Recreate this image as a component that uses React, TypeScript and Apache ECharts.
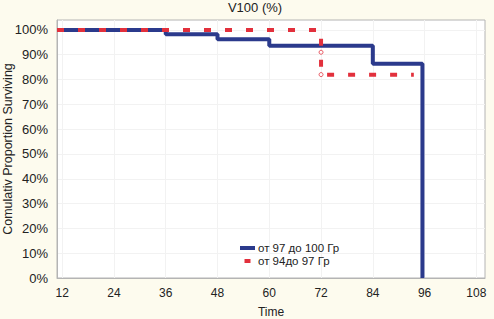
import React, { useEffect, useRef } from "react";
import * as echarts from "echarts";

const xTicks = [12, 24, 36, 48, 60, 72, 84, 96, 108];
const yTicks = [0, 10, 20, 30, 40, 50, 60, 70, 80, 90, 100];

const blueName = "от 97 до 100 Гр";
const redName = "от 94до 97 Гр";

// step points (time, % surviving)
const blueTimes = [10.8, 36, 48, 60, 84, 95.5];
const blueValues = [100, 98.3, 96.2, 93.6, 86.4, 0];

const redTimes = [10.8, 72, 93.5];
const redValues = [100, 81.9, 81.9];

const redCensorTimes = [72, 72];
const redCensorValues = [91, 82];

export default function App() {
  const ref = useRef<HTMLDivElement>(null);
  useEffect(() => {
    if (!ref.current) return;
    const chart = echarts.init(ref.current, null, { renderer: "svg" });
    const font = "Liberation Sans, Arial, sans-serif";
    chart.setOption({
      animation: false,
      backgroundColor: "#fdfbee",
      textStyle: { fontFamily: font },
      title: {
        text: "V100 (%)",
        left: 250,
        top: -4,
        textAlign: "center",
        textStyle: { fontSize: 13, fontWeight: "normal", color: "#222", fontFamily: font },
      },
      legend: {
        orient: "vertical",
        left: 235,
        top: 237,
        itemWidth: 15,
        itemHeight: 4,
        itemGap: 1,
        textStyle: { fontSize: 11.5, color: "#222", fontFamily: font, padding: [0, 0, 0, -2] },
        data: [
          { name: blueName, icon: "rect" },
          { name: redName, icon: "path://M0,0h6v4h-6z" },
        ],
      },
      grid: {
        left: 57,
        right: 9,
        top: 20,
        bottom: 41,
        show: true,
        backgroundColor: "#ffffff",
        borderColor: "#b4b4b4",
        borderWidth: 1,
        containLabel: false,
        outerBoundsMode: "none",
      },
      xAxis: {
        type: "value",
        min: 10.8,
        max: 110,
        name: "Time",
        nameLocation: "middle",
        nameGap: 28,
        nameMoveOverlap: false,
        nameTextStyle: { fontSize: 12, color: "#222", fontFamily: font },
        axisLine: { show: true, lineStyle: { color: "#b4b4b4" } },
        axisTick: { show: false, customValues: xTicks },
        axisLabel: {
          customValues: xTicks,
          fontSize: 12,
          color: "#222",
          margin: 9,
          fontFamily: font,
        },
        splitLine: { show: true, lineStyle: { color: "#f2f2f2" } },
      },
      yAxis: {
        type: "value",
        min: 0,
        max: 104,
        name: "Comulativ Proportion Surviving",
        nameLocation: "middle",
        nameGap: 43,
        nameMoveOverlap: false,
        nameTextStyle: { fontSize: 12.5, color: "#222", fontFamily: font },
        axisLine: { show: true, lineStyle: { color: "#b4b4b4" } },
        axisTick: { show: false, customValues: yTicks },
        axisLabel: {
          customValues: yTicks,
          formatter: "{value}%",
          fontSize: 13,
          color: "#222",
          margin: 9,
          fontFamily: font,
        },
        splitLine: { show: true, lineStyle: { color: "#f2f2f2" } },
      },
      series: [
        {
          name: blueName,
          type: "line",
          step: "end",
          symbol: "none",
          color: "#2b3a8c",
          lineStyle: { width: 4, color: "#2b3a8c" },
          data: blueTimes.map((t, i) => [t, blueValues[i]]),
          z: 2,
        },
        {
          name: redName,
          type: "line",
          step: "end",
          symbol: "none",
          color: "#e2303c",
          lineStyle: { width: 4, color: "#e2303c", type: [7, 14] },
          data: redTimes.map((t, i) => [t, redValues[i]]),
          z: 3,
        },
        {
          name: "censor",
          type: "scatter",
          symbol: "circle",
          symbolSize: 4,
          itemStyle: { color: "#fff", borderColor: "#e2303c", borderWidth: 1 },
          data: redCensorTimes.map((t, i) => [t, redCensorValues[i]]),
          z: 4,
        },
      ],
    });
    return () => chart.dispose();
  }, []);
  return (
    <div
      ref={ref}
      style={{ position: "absolute", left: 0, top: 0, width: 494, height: 319 }}
    />
  );
}
